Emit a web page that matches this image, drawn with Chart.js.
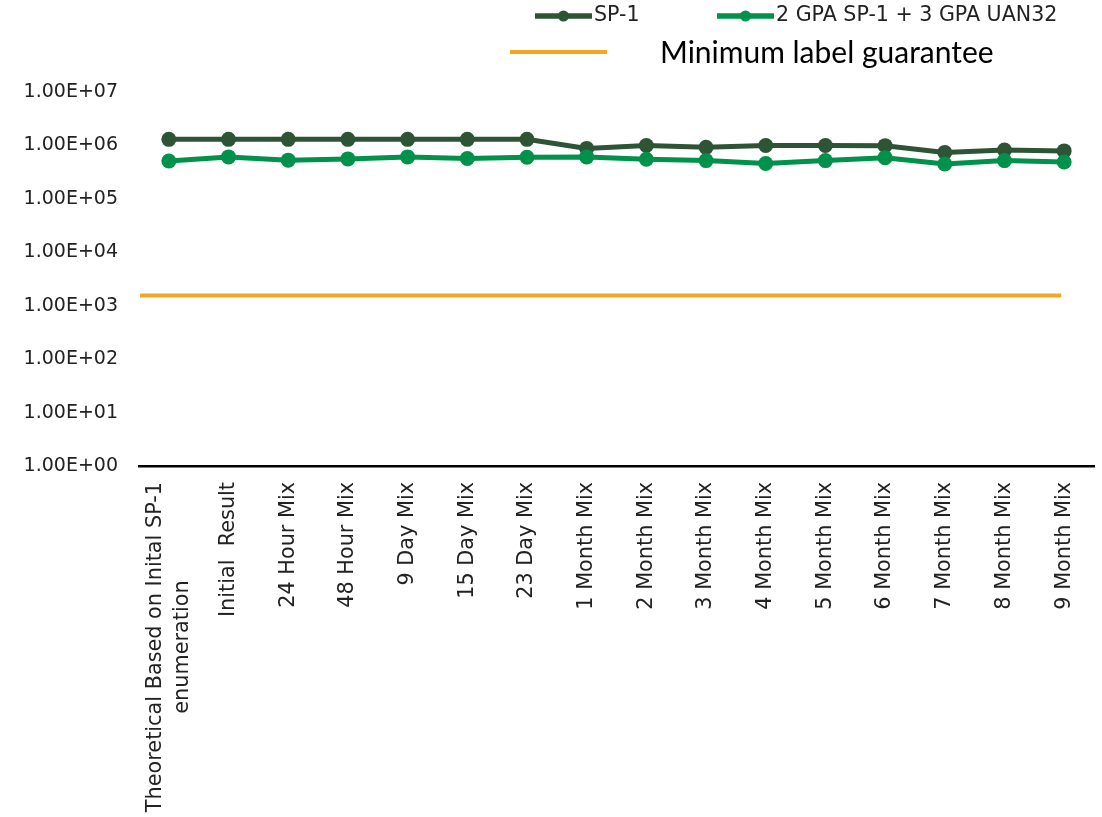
<!DOCTYPE html>
<html>
<head>
<meta charset="utf-8">
<script src="https://cdn.jsdelivr.net/npm/chart.js@4/dist/chart.umd.min.js"></script>
<style>
  html, body { margin: 0; padding: 0; background: #ffffff; }
  canvas { display: block; }
</style>
</head>
<body>
<canvas id="chart" width="1102" height="817"></canvas>
<script>
// Sampling points (the first label wraps onto two lines)
const CATEGORIES = [
  ['Theoretical Based on Inital SP-1', 'enumeration'],
  'Initial  Result',
  '24 Hour Mix',
  '48 Hour Mix',
  '9 Day Mix',
  '15 Day Mix',
  '23 Day Mix',
  '1 Month Mix',
  '2 Month Mix',
  '3 Month Mix',
  '4 Month Mix',
  '5 Month Mix',
  '6 Month Mix',
  '7 Month Mix',
  '8 Month Mix',
  '9 Month Mix'
];

// Counts per sample
const SP1 = [1.3e6, 1.3e6, 1.3e6, 1.3e6, 1.3e6, 1.3e6, 1.3e6, 8.8e5, 1.0e6, 9.2e5, 1.0e6, 1.0e6, 9.9e5, 7.4e5, 8.2e5, 7.9e5];
const SP1_UAN32 = [5.1e5, 6.1e5, 5.3e5, 5.6e5, 6.1e5, 5.7e5, 6.0e5, 6.1e5, 5.5e5, 5.2e5, 4.6e5, 5.2e5, 5.9e5, 4.5e5, 5.2e5, 4.9e5];

// Guaranteed minimum count printed on the label
const MIN_GUARANTEE = 1.55e3;

// Logarithmic axis ticks
const Y_TICK_VALUES = [1, 10, 100, 1000, 10000, 100000, 1000000, 10000000];
const Y_TICK_LABELS = ['1.00E+00', '1.00E+01', '1.00E+02', '1.00E+03', '1.00E+04', '1.00E+05', '1.00E+06', '1.00E+07'];

const SERIES_NAMES = ['SP-1', '2 GPA SP-1 + 3 GPA UAN32', 'Minimum label guarantee'];

const DARK_GREEN = '#2d5434';
const GREEN = '#00924a';
const ORANGE = '#efa823';
const TEXT = '#222222';
const SANS = '"DejaVu Sans", sans-serif';

// Horizontal guarantee line across the plot
const guaranteeLine = {
  id: 'guaranteeLine',
  beforeDatasetsDraw(chart) {
    const { ctx, chartArea, scales } = chart;
    const y = scales.y.getPixelForValue(MIN_GUARANTEE);
    const xEnd = scales.x.getPixelForValue(CATEGORIES.length - 1);
    ctx.save();
    ctx.strokeStyle = ORANGE;
    ctx.lineWidth = 4;
    ctx.beginPath();
    ctx.moveTo(chartArea.left + 1, y);
    ctx.lineTo(xEnd - 3, y);
    ctx.stroke();
    ctx.restore();
  }
};

// Vertical category labels, each block centred on its longest line
const verticalLabels = {
  id: 'verticalLabels',
  afterDraw(chart) {
    const { ctx, chartArea, scales } = chart;
    const top = chartArea.bottom + 16;
    const lineHeight = 27;
    ctx.save();
    ctx.font = '20.8px ' + SANS;
    ctx.fillStyle = TEXT;
    ctx.textAlign = 'center';
    ctx.textBaseline = 'middle';
    CATEGORIES.forEach((label, i) => {
      const lines = Array.isArray(label) ? label : [label];
      const w = Math.max(...lines.map(l => ctx.measureText(l).width));
      const x = scales.x.getPixelForValue(i);
      ctx.save();
      ctx.translate(x, top + w / 2);
      ctx.rotate(-Math.PI / 2);
      lines.forEach((line, j) => {
        ctx.fillText(line, 0, (j - (lines.length - 1) / 2) * lineHeight);
      });
      ctx.restore();
    });
    ctx.restore();
  }
};

// Legend block above the plot
const legendBlock = {
  id: 'legendBlock',
  afterDraw(chart) {
    const { ctx } = chart;
    ctx.save();
    ctx.textAlign = 'left';
    ctx.textBaseline = 'middle';

    const swatch = (x0, x1, y, color, marker) => {
      ctx.strokeStyle = color;
      ctx.lineWidth = marker ? 5.5 : 4;
      ctx.beginPath();
      ctx.moveTo(x0, y);
      ctx.lineTo(x1, y);
      ctx.stroke();
      if (marker) {
        ctx.fillStyle = color;
        ctx.beginPath();
        ctx.arc((x0 + x1) / 2, y, 5.5, 0, Math.PI * 2);
        ctx.fill();
      }
    };

    ctx.font = '20.6px ' + SANS;
    swatch(535, 592, 16, DARK_GREEN, true);
    ctx.fillStyle = TEXT;
    ctx.fillText(SERIES_NAMES[0], 594, 16);
    swatch(717, 774, 16, GREEN, true);
    ctx.fillStyle = TEXT;
    ctx.fillText(SERIES_NAMES[1], 776, 16);

    swatch(510, 607, 52, ORANGE, false);
    ctx.font = '30px Lato, sans-serif';
    ctx.fillStyle = '#000000';
    ctx.fillText(SERIES_NAMES[2], 660, 53);
    ctx.restore();
  }
};

new Chart(document.getElementById('chart'), {
  type: 'line',
  data: {
    labels: CATEGORIES,
    datasets: [
      {
        label: SERIES_NAMES[0],
        data: SP1,
        borderColor: DARK_GREEN,
        backgroundColor: DARK_GREEN,
        pointBackgroundColor: DARK_GREEN,
        borderWidth: 5,
        pointRadius: 7.5,
        pointBorderWidth: 0,
        tension: 0,
        order: 2
      },
      {
        label: SERIES_NAMES[1],
        data: SP1_UAN32,
        borderColor: GREEN,
        backgroundColor: GREEN,
        pointBackgroundColor: GREEN,
        borderWidth: 5,
        pointRadius: 7.5,
        pointBorderWidth: 0,
        tension: 0,
        order: 1
      }
    ]
  },
  options: {
    responsive: false,
    devicePixelRatio: 1,
    animation: false,
    layout: { padding: { top: 92, right: 8, left: 0, bottom: 0 } },
    plugins: {
      legend: { display: false },
      tooltip: { enabled: false }
    },
    scales: {
      x: {
        type: 'category',
        offset: true,
        grid: { display: false, drawTicks: false },
        border: { display: true, color: '#000000', width: 2.5 },
        ticks: { display: false },
        afterFit(scale) { scale.height = 351; }
      },
      y: {
        type: 'logarithmic',
        min: 1,
        max: 1e7,
        grid: { display: false, drawTicks: false },
        border: { display: false },
        afterBuildTicks(scale) {
          scale.ticks = Y_TICK_VALUES.map(v => ({ value: v }));
        },
        ticks: {
          padding: 21,
          color: TEXT,
          font: { family: SANS, size: 19 },
          callback(value) {
            const i = Y_TICK_VALUES.indexOf(value);
            return i >= 0 ? Y_TICK_LABELS[i] : '';
          }
        },
        afterFit(scale) { scale.width = 139; }
      }
    }
  },
  plugins: [guaranteeLine, verticalLabels, legendBlock]
});
</script>
</body>
</html>
